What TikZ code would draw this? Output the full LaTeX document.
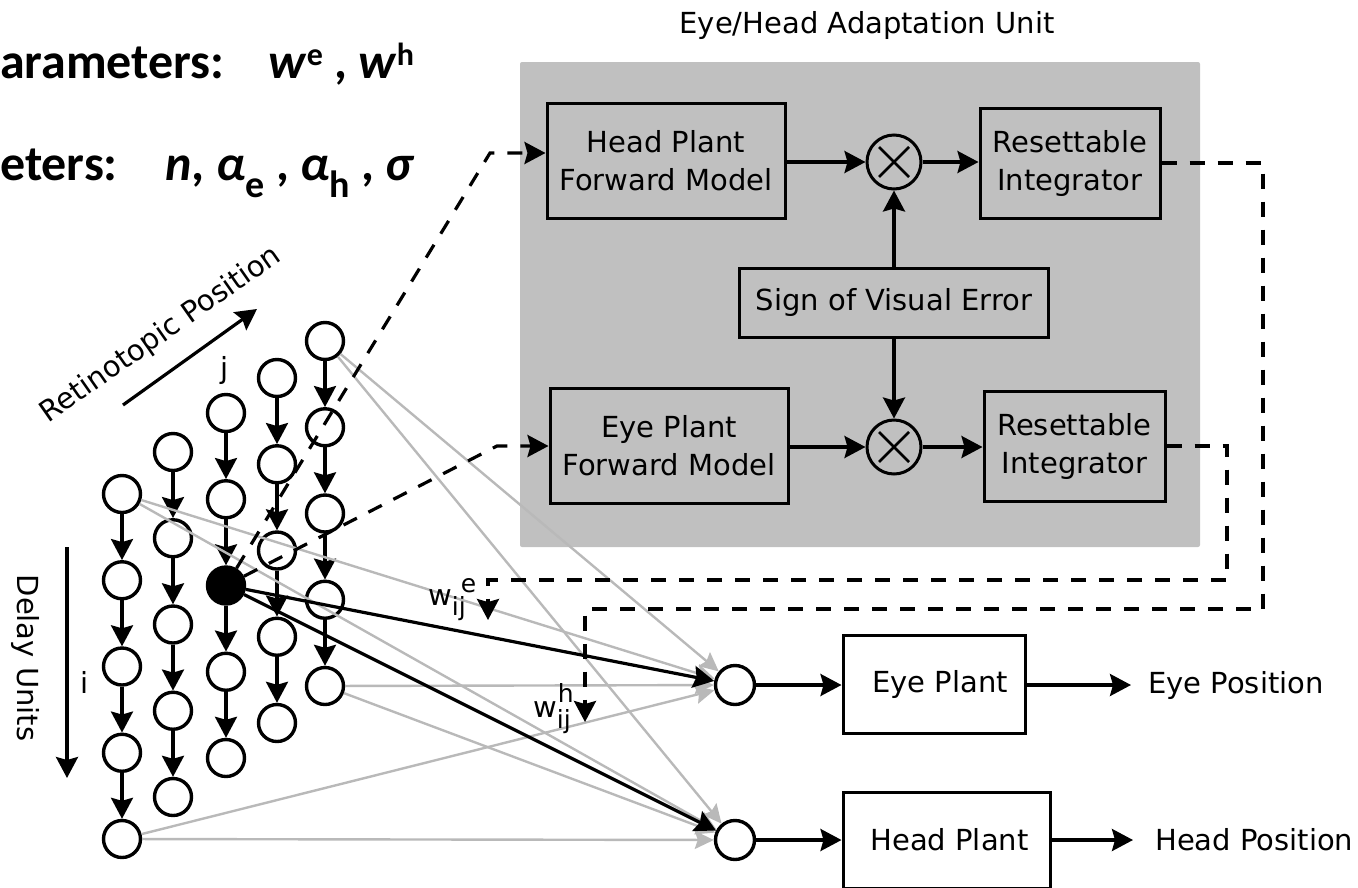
\documentclass[tikz,border=0pt]{standalone}
\usepackage{fontspec}
\setmainfont{DejaVu Sans}
\newfontfamily\carlito{Carlito}
\usetikzlibrary{arrows.meta,calc}
\definecolor{boxgray}{RGB}{192,192,192}
\definecolor{linegray}{RGB}{185,185,185}
\begin{document}
\begin{tikzpicture}[x=1pt,y=-1pt,
  every node/.style={font=\fontsize{29}{38}\selectfont},
  cell/.style={circle,draw,line width=3.4pt,minimum size=37pt,inner sep=0pt},
  blk/.style={draw,line width=3pt,align=center,inner sep=0pt},
  mult/.style={circle,draw,line width=3pt,minimum size=54pt,inner sep=0pt,
    path picture={\draw[line width=2.8pt]
      ($(path picture bounding box.center)+(-15pt,-15pt)$) -- ($(path picture bounding box.center)+(15pt,15pt)$)
      ($(path picture bounding box.center)+(-15pt,15pt)$) -- ($(path picture bounding box.center)+(15pt,-15pt)$);}},
  arrowtip/.style={-{Stealth[length=21pt,width=22pt,inset=3pt]}},
  arr/.style={line width=3.2pt,arrowtip},
  garr/.style={draw=linegray,line width=2.4pt,-{Stealth[length=19pt,width=18pt,inset=3pt]}},
  dsh/.style={line width=3.2pt,dash pattern=on 15pt off 13pt},
  toptext/.style={anchor=base west,inner sep=0pt,font=\carlito\bfseries\fontsize{50}{60}\selectfont},
]
\useasboundingbox (0,0) rectangle (1358,887);
\clip (0,0) rectangle (1358,887);

% top-left parameter lines
\node[toptext] (p1) at (0,78) {arameters:\hspace{44pt}\textit{w}\raisebox{13pt}{\fontsize{32}{32}\selectfont e} , \textit{w}\raisebox{13pt}{\fontsize{32}{32}\selectfont h}};
\node[toptext] (p2) at (0,180) {eters:\hspace{48pt}\textit{n,} \textit{α}\raisebox{-17pt}{\fontsize{38}{38}\selectfont e} , \textit{α}\raisebox{-17pt}{\fontsize{38}{38}\selectfont h} , \textit{σ}};

% adaptation unit
\fill[boxgray,rounded corners=2pt] (520,62) rectangle (1200,547);
\node (title) at (867,25) {Eye/Head Adaptation Unit};
\node[blk,minimum width=238pt,minimum height=115pt] (hfm) at (666,160.5) {Head Plant\\Forward Model};
\node[mult] (m1) at (894,162) {};
\node[blk,minimum width=180pt,minimum height=110pt] (ri1) at (1070,163) {Resettable\\Integrator};
\node[blk,minimum width=309pt,minimum height=69pt] (sve) at (894,302.5) {Sign of Visual Error};
\node[blk,minimum width=238pt,minimum height=115pt] (efm) at (669,445.5) {Eye Plant\\Forward Model};
\node[mult] (m2) at (894,447) {};
\node[blk,minimum width=181pt,minimum height=110pt] (ri2) at (1074.5,446) {Resettable\\Integrator};

\draw[arr] (hfm.east |- m1) -- (m1);
\draw[arr] (m1) -- (m1 -| ri1.west);
\draw[arr] (sve) -- (m1);
\draw[arr] (sve) -- (m2);
\draw[arr] (efm.east |- m2) -- (m2);
\draw[arr] (m2) -- (m2 -| ri2.west);

% outputs
\node[cell,minimum size=39pt] (eo) at (735,685) {};
\node[cell,minimum size=39pt] (ho) at (735,840) {};
\node[blk,minimum width=182pt,minimum height=98pt] (ep) at (934,684) {\hspace{12pt}Eye Plant};
\node[blk,minimum width=207pt,minimum height=96pt] (hp) at (946.5,840) {\hspace{6pt}Head Plant};
\node[anchor=west,inner sep=0pt] (epos) at (1148,685) {Eye Position};
\node[anchor=west,inner sep=0pt] (hpos) at (1155,840) {Head Position};
\draw[arr] (eo) -- (eo -| ep.west);
\draw[arr] (ho) -- (ho -| hp.west);
\draw[arr] (ep.east |- epos) -- ([xshift=-17pt]epos.west);
\draw[arr] (hp.east |- hpos) -- ([xshift=-22pt]hpos.west);

% grid of delay units
\foreach \c/\x/\t in {1/122/494,2/173/452,3/226/413,4/277/378,5/325/341}{
  \foreach \r in {1,...,5}{
    \ifnum\c\r=33
      \node[cell,fill=black] (n-\c-\r) at (\x,{\t+(\r-1)*86.25}) {};
    \else
      \node[cell] (n-\c-\r) at (\x,{\t+(\r-1)*86.25}) {};
    \fi
  }
}
\foreach \c in {1,...,5}{
  \foreach \r/\s in {1/2,2/3,3/4,4/5}{
    \draw[arr] (n-\c-\r) -- (n-\c-\s);
  }
}

% weighted connections
\foreach \s in {n-1-1,n-5-1,n-5-5,n-1-5}{
  \draw[garr] (\s) -- (eo);
  \draw[garr] (\s) -- (ho);
}
\draw[arr] (n-3-3) -- (eo);
\draw[arr] (n-3-3) -- (ho);

% dashed links to forward models
\coordinate (ca) at (490,153);
\coordinate (cb) at (497,446);
\draw[dsh,arrowtip] (n-3-3) -- (ca) -- (ca -| hfm.west);
\draw[dsh,arrowtip] (n-3-3) -- (cb) -- (cb -| efm.west);

% dashed return from integrators
\coordinate (ru) at (1263,163);
\coordinate (rd) at (1263,609);
\coordinate (hl) at (585,609);
\coordinate (ht) at (585,722);
\draw[dsh,arrowtip] (ri1.east) -- (ru) -- (rd) -- (hl) -- (ht);
\coordinate (su) at (1227,446);
\coordinate (sd) at (1227,580);
\coordinate (el) at (488,580);
\coordinate (et) at (488,620);
\draw[dsh,arrowtip] (ri2.east) -- (su) -- (sd) -- (el) -- (et);

% weight labels
\node[anchor=base west,inner sep=0pt] (we) at (428,605) {w\rlap{\hspace{9pt}\raisebox{13pt}{\fontsize{25}{25}\selectfont e}}\raisebox{-10pt}{\fontsize{25}{25}\selectfont ij}};
\node[anchor=base west,inner sep=0pt] (wh) at (533,717) {w\rlap{\hspace{1pt}\raisebox{15pt}{\fontsize{25}{25}\selectfont h}}\raisebox{-11pt}{\fontsize{25}{25}\selectfont ij}};

% axis labels
\coordinate (ra) at (123,405);
\coordinate (rb) at (257,309);
\draw[arr] (ra) -- (rb);
\node[rotate=35] (rp) at (161,335) {Retinotopic Position};
\node (jl) at (225,370) {j};
\coordinate (da) at (67,547);
\coordinate (db) at (67,778);
\draw[arr] (da) -- (db);
\node[rotate=-90] (du) at (26,658) {Delay Units};
\node (il) at (85,682) {i};
\end{tikzpicture}
\end{document}
